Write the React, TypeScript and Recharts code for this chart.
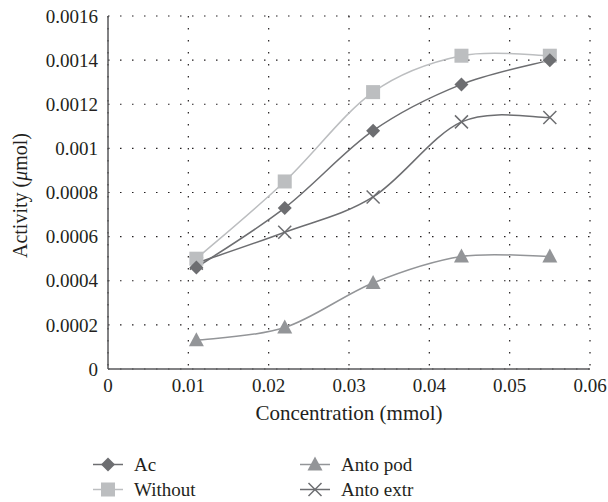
import { CartesianGrid, Line, LineChart, XAxis, YAxis } from 'recharts';

const concentration = [0.011, 0.022, 0.033, 0.044, 0.055];
const ac = [0.00046, 0.00073, 0.00108, 0.00129, 0.0014];
const without = [0.0005, 0.00085, 0.001255, 0.00142, 0.00142];
const antoPod = [0.00013, 0.000188, 0.00039, 0.00051, 0.00051];
const antoExtr = [0.00048, 0.00062, 0.00078, 0.00112, 0.00114];

const xTicks = [0, 0.01, 0.02, 0.03, 0.04, 0.05, 0.06];
const yTicks = [0, 0.0002, 0.0004, 0.0006, 0.0008, 0.001, 0.0012, 0.0014, 0.0016];

const data = concentration.map((c, i) => ({
  c,
  ac: ac[i],
  without: without[i],
  antoPod: antoPod[i],
  antoExtr: antoExtr[i],
}));

const FONT = 'Times New Roman, Times, serif';
const TEXT = '#231f20';

// catmull-rom style smoothing, close to what Excel draws
function smooth(context: any) {
  let pts: number[][] = [];
  return {
    areaStart() {},
    areaEnd() {},
    lineStart() {
      pts = [];
    },
    point(x: number, y: number) {
      pts.push([+x, +y]);
    },
    lineEnd() {
      if (!pts.length) return;
      context.moveTo(pts[0][0], pts[0][1]);
      for (let i = 0; i < pts.length - 1; i++) {
        const p0 = pts[Math.max(i - 1, 0)];
        const p1 = pts[i];
        const p2 = pts[i + 1];
        const p3 = pts[Math.min(i + 2, pts.length - 1)];
        context.bezierCurveTo(
          p1[0] + (p2[0] - p0[0]) / 6,
          p1[1] + (p2[1] - p0[1]) / 6,
          p2[0] - (p3[0] - p1[0]) / 6,
          p2[1] - (p3[1] - p1[1]) / 6,
          p2[0],
          p2[1]
        );
      }
    },
  };
}

type Shape = 'diamond' | 'square' | 'triangle' | 'cross';

function Marker({ cx, cy, shape, color }: { cx: number; cy: number; shape: Shape; color: string }) {
  if (shape === 'diamond') {
    const r = 7;
    return <path d={`M${cx},${cy - r}L${cx + r},${cy}L${cx},${cy + r}L${cx - r},${cy}Z`} fill={color} />;
  }
  if (shape === 'square') {
    return <rect x={cx - 7} y={cy - 7} width={14} height={14} fill={color} />;
  }
  if (shape === 'triangle') {
    return <path d={`M${cx},${cy - 8}L${cx + 7.5},${cy + 6}L${cx - 7.5},${cy + 6}Z`} fill={color} />;
  }
  const r = 6.5;
  return (
    <path
      d={`M${cx - r},${cy - r}L${cx + r},${cy + r}M${cx + r},${cy - r}L${cx - r},${cy + r}`}
      stroke={color}
      strokeWidth={1.5}
      fill="none"
    />
  );
}

const series: { key: string; name: string; color: string; shape: Shape }[] = [
  { key: 'antoPod', name: 'Anto pod', color: '#939598', shape: 'triangle' },
  { key: 'antoExtr', name: 'Anto extr', color: '#6d6e71', shape: 'cross' },
  { key: 'without', name: 'Without', color: '#bcbec0', shape: 'square' },
  { key: 'ac', name: 'Ac', color: '#6d6e71', shape: 'diamond' },
];

const legendOrder = [
  ['ac', 'antoPod'],
  ['without', 'antoExtr'],
];

function YLabel(props: any) {
  const { viewBox } = props;
  const cy = viewBox.y + viewBox.height / 2 + 3;
  const x = 20;
  return (
    <text
      x={x}
      y={cy}
      transform={`rotate(-90 ${x} ${cy})`}
      textAnchor="middle"
      dominantBaseline="central"
      fontFamily={FONT}
      fontSize={20}
      fill={TEXT}
    >
      Activity (<tspan fontStyle="italic">μ</tspan>mol)
    </text>
  );
}

function LegendBox() {
  return (
    <div style={{ position: 'absolute', left: 0, top: 452, width: 608, fontFamily: FONT, fontSize: 19, color: TEXT }}>
      {legendOrder.map((row, r) =>
        row.map((key, c) => {
          const s = series.find((d) => d.key === key)!;
          const left = c === 0 ? 93 : 300;
          return (
            <div key={key} style={{ position: 'absolute', left, top: r * 25, height: 25, display: 'flex', alignItems: 'center' }}>
              <svg width={30} height={25}>
                <line x1={0} x2={30} y1={12.5} y2={12.5} stroke={s.color} strokeWidth={1.5} />
                <Marker cx={15} cy={12.5} shape={s.shape} color={s.color} />
              </svg>
              <span style={{ marginLeft: 11, whiteSpace: 'nowrap' }}>{s.name}</span>
            </div>
          );
        })
      )}
    </div>
  );
}

export default function App() {
  return (
    <div style={{ position: 'absolute', left: 0, top: 0, width: 608, height: 502, background: '#fff' }}>
      <LineChart width={608} height={502} data={data} margin={{ top: 16, right: 18, bottom: 73, left: 0 }}>
        <CartesianGrid stroke={TEXT} strokeDasharray="1.5 10.5" strokeWidth={1.2} />
        <XAxis
          dataKey="c"
          type="number"
          domain={[0, 0.06]}
          ticks={xTicks}
          height={60}
          tickLine={false}
          tickSize={8}
          tickMargin={2}
          stroke="#58595b"
          strokeWidth={1.5}
          tick={{ fill: TEXT, fontFamily: FONT, fontSize: 19 }}
          label={{
            value: 'Concentration (mmol)',
            position: 'insideBottom',
            offset: 9,
            fill: TEXT,
            fontFamily: FONT,
            fontSize: 21,
          }}
        />
        <YAxis
          type="number"
          domain={[0, 0.0016]}
          ticks={yTicks}
          width={108}
          tickLine={false}
          tickSize={8}
          tickMargin={2}
          stroke="#58595b"
          strokeWidth={1.5}
          tick={{ fill: TEXT, fontFamily: FONT, fontSize: 19 }}
          tickFormatter={(v: number) => String(v)}
          label={<YLabel />}
        />
        {series.map((s) => (
          <Line
            key={s.key}
            dataKey={s.key}
            name={s.name}
            type={smooth as any}
            stroke={s.color}
            strokeWidth={1.5}
            isAnimationActive={false}
            dot={(p: any) => <Marker key={`${s.key}-${p.index}`} cx={p.cx} cy={p.cy} shape={s.shape} color={s.color} />}
            activeDot={false}
          />
        ))}
      </LineChart>
      <LegendBox />
    </div>
  );
}
